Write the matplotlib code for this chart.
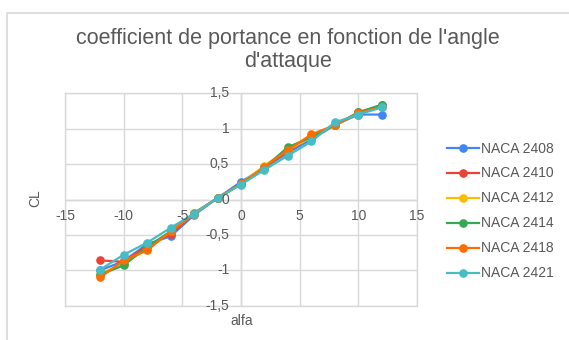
import matplotlib
matplotlib.use("Agg")
import matplotlib.pyplot as plt
from matplotlib.lines import Line2D

plt.rcParams['font.family'] = ['Liberation Sans', 'DejaVu Sans']

# Angle of attack (degrees)
alfa = [-12, -10, -8, -6, -4, -2, 0, 2, 4, 6, 8, 10, 12]

# Lift coefficient per profile
naca_2408 = [-1.00, -0.87, -0.63, -0.52, -0.22, 0.02, 0.25, 0.45, 0.66, 0.85, 1.05, 1.20, 1.20]
naca_2410 = [-0.86, -0.88, -0.65, -0.49, -0.20, 0.02, 0.22, 0.46, 0.68, 0.90, 1.05, 1.23, 1.33]
naca_2412 = [-1.05, -0.90, -0.70, -0.45, -0.20, 0.02, 0.22, 0.48, 0.70, 0.88, 1.05, 1.22, 1.32]
naca_2414 = [-1.06, -0.93, -0.67, -0.45, -0.19, 0.02, 0.22, 0.45, 0.74, 0.88, 1.05, 1.23, 1.34]
naca_2418 = [-1.10, -0.86, -0.72, -0.45, -0.20, 0.02, 0.22, 0.46, 0.70, 0.92, 1.05, 1.22, 1.31]
naca_2421 = [-0.99, -0.78, -0.61, -0.40, -0.20, 0.02, 0.21, 0.42, 0.62, 0.82, 1.09, 1.20, 1.30]

series_names = ['NACA 2408', 'NACA 2410', 'NACA 2412', 'NACA 2414', 'NACA 2418', 'NACA 2421']
series_values = [naca_2408, naca_2410, naca_2412, naca_2414, naca_2418, naca_2421]
colors = ['#4285F4', '#EA4335', '#FBBC04', '#34A853', '#FF6D01', '#46BDC6']

x_ticks = [-15, -10, -5, 0, 5, 10, 15]
y_ticks = [-1.5, -1.0, -0.5, 0.0, 0.5, 1.0, 1.5]

W, H = 569, 340
fig = plt.figure(figsize=(W / 100, H / 100), dpi=100)
ax = fig.add_axes([65 / W, 1 - 305.7 / H, (417 - 65) / W, (305.7 - 93.3) / H])

text_color = '#595959'
grid_color = '#d9d9d9'

for name, vals, c in zip(series_names, series_values, colors):
    ax.plot(alfa, vals, color=c, lw=1.6, marker='o', ms=5.2, label=name, zorder=3)

ax.set_xlim(-15, 15)
ax.set_ylim(-1.5, 1.5)
ax.set_xticks(x_ticks)
ax.set_yticks(y_ticks)
ax.tick_params(length=0, labelbottom=False, labelleft=False)
ax.grid(True, color=grid_color, lw=1)
for s in ax.spines.values():
    s.set_color(grid_color)
    s.set_linewidth(1)
ax.axhline(0, color='#cccccc', lw=1, zorder=1)
ax.axvline(0, color='#cccccc', lw=1, zorder=1)


def fmt(v):
    s = ('%g' % v).replace('.', ',')
    return s


# Tick labels sit along the axes crossing at the origin
for xv in x_ticks:
    ax.annotate(fmt(xv), (xv, 0), xytext=(0, -12), textcoords='offset points',
                ha='center', va='center', fontsize=10, color=text_color)
for yv in y_ticks:
    ax.annotate(fmt(yv), (0, yv), xytext=(-8.5, 0), textcoords='offset points',
                ha='right', va='center', fontsize=10, color=text_color)

fig.text(242 / W, 1 - 321 / H, 'alfa', ha='center', va='center', fontsize=10, color=text_color)
fig.text(35 / W, 1 - 198 / H, 'CL', ha='center', va='center', rotation=90,
         fontsize=10, color=text_color)

fig.text(288 / W, 1 - 50 / H, "coefficient de portance en fonction de l'angle\nd'attaque",
         ha='center', va='center', fontsize=15.5, color=text_color, linespacing=1.1)

ax.legend(loc='upper left', bbox_to_anchor=(447 / W, 1 - 141.5 / H),
          bbox_transform=fig.transFigure, frameon=False, fontsize=10,
          handlelength=2.3, handletextpad=0.15, labelspacing=0.79,
          borderpad=0, borderaxespad=0, labelcolor=text_color)

# Chart frame
fig.add_artist(Line2D([7 / W, 7 / W, 1], [0, 1 - 12.5 / H, 1 - 12.5 / H],
                      transform=fig.transFigure, color=grid_color, lw=1.2))

fig.savefig('out.png', dpi=100)
